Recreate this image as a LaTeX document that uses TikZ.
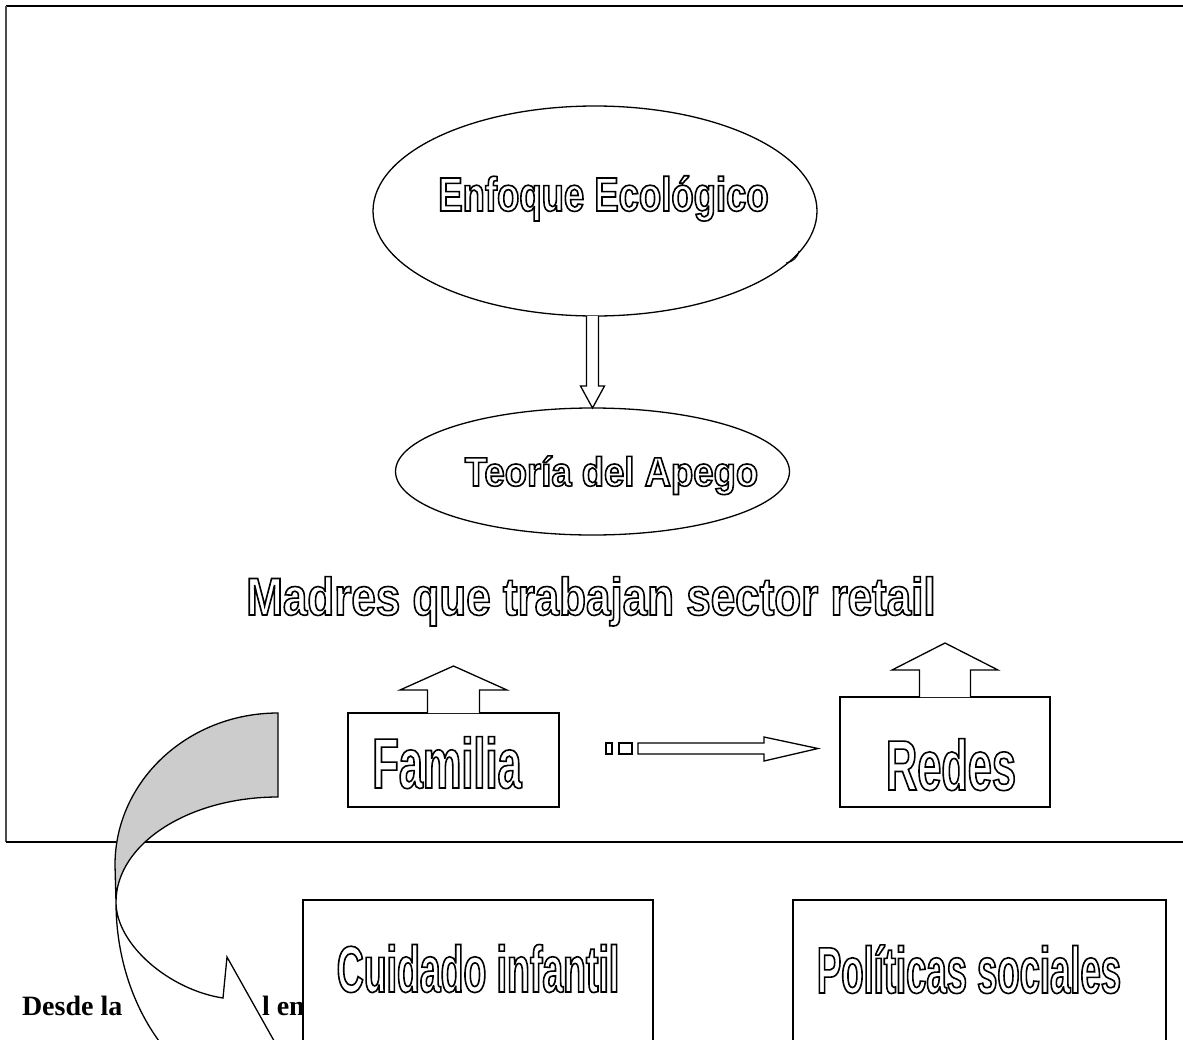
\documentclass[tikz,border=0pt]{standalone}
\usepackage{fontspec}
\setmainfont{Liberation Serif}
\newfontfamily\fEnf{Liberation Sans}[FakeStretch=0.76]
\newfontfamily\fTeo{Liberation Sans}[FakeStretch=0.89]
\newfontfamily\fMad{Liberation Sans}[FakeStretch=0.83]
\newfontfamily\fFam{Liberation Sans}[FakeStretch=0.61]
\newfontfamily\fCui{Liberation Sans}[FakeStretch=0.57]
\newfontfamily\fPol{Liberation Sans}[FakeStretch=0.556]
\usetikzlibrary{shapes.geometric,calc}
\newcommand\outl[1]{\special{pdf:literal direct 1 Tr 1.6 w}#1\special{pdf:literal direct 0 Tr}}
\begin{document}
\begin{tikzpicture}[x=1pt,y=-1pt,
  shp/.style={draw=black, line width=1.3pt, fill=white},
  otext/.style={anchor=base, inner sep=0pt, outer sep=0pt},
  plaintext/.style={anchor=base west, inner sep=0pt, outer sep=0pt, font=\fontsize{28}{30}\selectfont\bfseries}]
\useasboundingbox (0,0) rectangle (1183,1039);
\fill[white] (0,0) rectangle (1183,1039);
% frame
\draw[line width=2.6pt] (6,6) -- (1183,6);
\draw[line width=1.2pt, black!70] (6,6) -- (6,842);
\draw[line width=2.2pt] (6,842) -- (1183,842);

% ellipses
\node[shp, ellipse, minimum width=444pt, minimum height=210pt, inner sep=0pt, outer sep=0pt] (eco) at (595,211) {};
\draw[line width=1pt] (786,263) .. controls (793,262) and (798,257) .. (799,251);
\node[shp, ellipse, minimum width=394pt, minimum height=127pt, inner sep=0pt, outer sep=0pt] (apego) at (592.5,471.5) {};
\node[otext] (ecot) at (603.5,211) {\fontsize{48}{50}\selectfont\fEnf\bfseries\outl{Enfoque Ecológico}};
\node[otext] (apegot) at (611.5,486) {\fontsize{41}{43}\selectfont\fTeo\bfseries\outl{Teoría del Apego}};

% down arrow
\coordinate (dtop) at (eco.south -| apego.north);
\draw[shp] ([xshift=-6pt]dtop) -- ([shift={(-6,-22)}]apego.north) -- ([shift={(-12,-22)}]apego.north)
  -- (apego.north) -- ([shift={(12,-22)}]apego.north) -- ([shift={(6,-22)}]apego.north) -- ([xshift=6pt]dtop);

% title
\node[otext] (madres) at (591,615) {\fontsize{53}{56}\selectfont\fMad\bfseries\outl{Madres que trabajan sector retail}};

% boxes with up arrows
\node[shp, rectangle, minimum width=211pt, minimum height=94pt, inner sep=0pt, outer sep=0pt] (fam) at (453.5,760) {};
\draw[shp] ([shift={(-26,0)}]fam.north) -- ([shift={(-26,-23)}]fam.north) -- ([shift={(-53.5,-23)}]fam.north)
  -- ([shift={(0,-47)}]fam.north) -- ([shift={(53.5,-23)}]fam.north) -- ([shift={(26,-23)}]fam.north) -- ([shift={(26,0)}]fam.north);
\node[otext] (famt) at (447,788) {\fontsize{71}{74}\selectfont\fFam\bfseries\outl{Familia}};

\node[shp, rectangle, minimum width=210pt, minimum height=110pt, inner sep=0pt, outer sep=0pt] (red) at (945,752) {};
\draw[shp] ([shift={(-25.5,0)}]red.north) -- ([shift={(-25.5,-27)}]red.north) -- ([shift={(-53,-27)}]red.north)
  -- ([shift={(0,-54)}]red.north) -- ([shift={(53,-27)}]red.north) -- ([shift={(25.5,-27)}]red.north) -- ([shift={(25.5,0)}]red.north);
\node[otext] (redt) at (951,790) {\fontsize{71}{74}\selectfont\fFam\bfseries\outl{Redes}};

% striped arrow
\draw[shp] (606,743) rectangle (612,754);
\draw[shp] (619,743) rectangle (632,754);
\draw[shp] (638,743) -- (764,743) -- (764,737) -- (818,748.5) -- (764,761) -- (764,754) -- (638,754) -- cycle;

% text line
\node[plaintext] (desde) at (22,1015) {Desde la};
\node[plaintext] (len) at (262,1015) {l en};

% curved arrow: front (white) part
\draw[line width=1.3pt, fill=white] (116,902) .. controls (116,960) and (135,1010) .. (162,1045) -- (170,1060)
  -- (305,1096) -- (227,957) -- (223,998) .. controls (170,990) and (116,945) .. (116,902) -- cycle;
% back (gray) part
\draw[line width=1.3pt, fill=black!20] (278,713) arc[start angle=270, end angle=180, x radius=163, y radius=152]
  -- (116,902) arc[start angle=180, end angle=270, x radius=162, y radius=105] -- cycle;

% lower boxes
\node[shp, rectangle, anchor=north west, minimum width=350pt, minimum height=170pt, inner sep=0pt, outer sep=0pt] (cui) at (303,900) {};
\node[otext] (cuit) at (478,992) {\fontsize{65.6}{68}\selectfont\fCui\bfseries\outl{Cuidado infantil}};
\node[shp, rectangle, anchor=north west, minimum width=373pt, minimum height=170pt, inner sep=0pt, outer sep=0pt] (pol) at (793,900) {};
\node[otext] (polt) at (969,993) {\fontsize{65.6}{68}\selectfont\fPol\bfseries\outl{Políticas sociales}};
\end{tikzpicture}
\end{document}
